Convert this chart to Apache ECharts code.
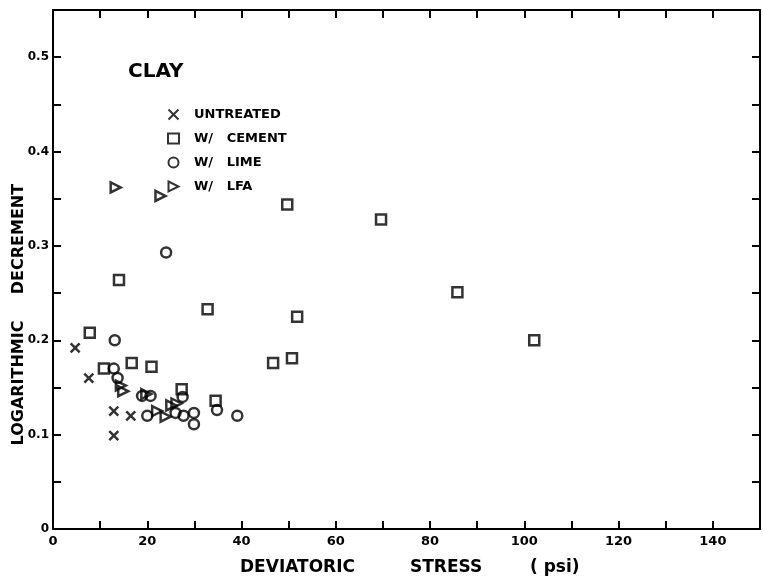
<!DOCTYPE html>
<html>
<head>
<meta charset="utf-8">
<script src="https://cdn.jsdelivr.net/npm/echarts@6/dist/echarts.min.js"></script>
<style>
html,body{margin:0;padding:0;background:#fff;}
#chart{width:763px;height:585px;}
</style>
</head>
<body>
<div id="chart"></div>
<script>
// ---- data ----
const seriesNames = ['UNTREATED', 'W/   CEMENT', 'W/   LIME', 'W/   LFA'];
const untreatedX = [4.7, 7.6, 12.9, 12.9, 16.5];
const untreatedY = [0.192, 0.160, 0.125, 0.099, 0.120];
const cementX = [7.8, 10.8, 14.0, 16.7, 20.9, 27.3, 32.8, 34.5, 46.7, 49.7, 50.7, 51.8, 69.6, 85.8, 102.1];
const cementY = [0.208, 0.170, 0.264, 0.176, 0.172, 0.148, 0.233, 0.136, 0.176, 0.344, 0.181, 0.225, 0.328, 0.251, 0.200];
const limeX = [13.1, 12.9, 13.7, 18.9, 20.7, 20.0, 24.0, 26.0, 27.5, 27.7, 29.9, 29.9, 34.8, 39.1];
const limeY = [0.200, 0.170, 0.160, 0.141, 0.141, 0.120, 0.293, 0.123, 0.140, 0.120, 0.123, 0.111, 0.126, 0.120];
const lfaX = [13.3, 22.8, 14.4, 14.9, 19.8, 22.1, 23.9, 25.1, 26.2];
const lfaY = [0.362, 0.353, 0.152, 0.146, 0.143, 0.125, 0.119, 0.131, 0.133];
const xTickLabels = ['0', '20', '40', '60', '80', '100', '120', '140'];
const yTickLabels = ['0', '0.1', '0.2', '0.3', '0.4', '0.5'];

const zip = (xs, ys) => xs.map((x, i) => [x, ys[i]]);
const FONT = 'DejaVu Sans';
const INK = '#000';

const chart = echarts.init(document.getElementById('chart'), null, {renderer: 'canvas'});

const pointStyle = {color: 'rgba(0,0,0,0)', borderColor: INK, borderWidth: 2.5};
function sc(name, data, symbol, size) {
  return {
    type: 'scatter', name: name, data: data, symbol: symbol, symbolSize: size,
    itemStyle: pointStyle, emphasis: {disabled: true}, silent: true
  };
}

const axisLineStyle = {show: true, onZero: false, lineStyle: {color: INK, width: 2}};
const tickStyle = {show: true, inside: true, length: 8, lineStyle: {color: INK, width: 2}};

const option = {
  animation: false,
  backgroundColor: '#fff',
  grid: {left: 53, right: 0, top: 10, bottom: 56, containLabel: false},
  xAxis: [{
    type: 'value', min: 0, max: 150, interval: 10, position: 'bottom',
    axisLine: axisLineStyle, axisTick: tickStyle, splitLine: {show: false},
    axisLabel: {
      margin: 6, color: INK, fontFamily: FONT, fontWeight: 'bold', fontSize: 13,
      formatter: v => (Math.round(v) % 20 === 0 ? xTickLabels[Math.round(v) / 20] || '' : '')
    }
  }, {
    type: 'value', min: 0, max: 150, interval: 10, position: 'top',
    axisLine: axisLineStyle, axisTick: tickStyle, splitLine: {show: false},
    axisLabel: {show: false}
  }],
  yAxis: [{
    type: 'value', min: 0, max: 0.55, interval: 0.05, position: 'left',
    axisLine: axisLineStyle, axisTick: tickStyle, splitLine: {show: false},
    axisLabel: {
      margin: 4, color: INK, fontFamily: FONT, fontWeight: 'bold', fontSize: 12,
      formatter: v => {
        const k = Math.round(v * 20);
        return k % 2 === 0 ? (yTickLabels[k / 2] || '') : '';
      }
    }
  }, {
    type: 'value', min: 0, max: 0.55, interval: 0.05, position: 'right',
    axisLine: axisLineStyle, axisTick: tickStyle, splitLine: {show: false},
    axisLabel: {show: false}
  }],
  legend: {
    orient: 'vertical', left: 162, top: 103, itemWidth: 11, itemHeight: 10, itemGap: 11,
    selectedMode: false,
    textStyle: {color: INK, fontFamily: FONT, fontWeight: 'bold', fontSize: 13, padding: [0, 0, 0, 10]},
    data: seriesNames
  },
  graphic: [
    {type: 'text', left: 128, top: 62, style: {text: 'CLAY', fill: INK, font: 'bold 20px "DejaVu Sans"'}},
    {type: 'text', x: 240, y: 568, style: {text: 'DEVIATORIC', fill: INK, font: 'bold 17px "DejaVu Sans"', textVerticalAlign: 'middle'}},
    {type: 'text', x: 410, y: 568, style: {text: 'STRESS', fill: INK, font: 'bold 17px "DejaVu Sans"', textVerticalAlign: 'middle'}},
    {type: 'text', x: 530, y: 568, style: {text: '( psi)', fill: INK, font: 'bold 17px "DejaVu Sans"', textVerticalAlign: 'middle'}},
    {type: 'text', x: 19, y: 239, rotation: Math.PI / 2, style: {text: 'DECREMENT', fill: INK, font: 'bold 16px "DejaVu Sans"', textAlign: 'center', textVerticalAlign: 'middle'}},
    {type: 'text', x: 19, y: 383, rotation: Math.PI / 2, style: {text: 'LOGARITHMIC', fill: INK, font: 'bold 16px "DejaVu Sans"', textAlign: 'center', textVerticalAlign: 'middle'}}
  ],
  series: [
    sc(seriesNames[0], zip(untreatedX, untreatedY), 'path://M0,0L10,10M10,0L0,10', 9),
    sc(seriesNames[1], zip(cementX, cementY), 'rect', 10),
    sc(seriesNames[2], zip(limeX, limeY), 'circle', 10),
    sc(seriesNames[3], zip(lfaX, lfaY), 'path://M0,0L10,5L0,10Z', 10)
  ]
};
chart.setOption(option);
</script>
</body>
</html>
